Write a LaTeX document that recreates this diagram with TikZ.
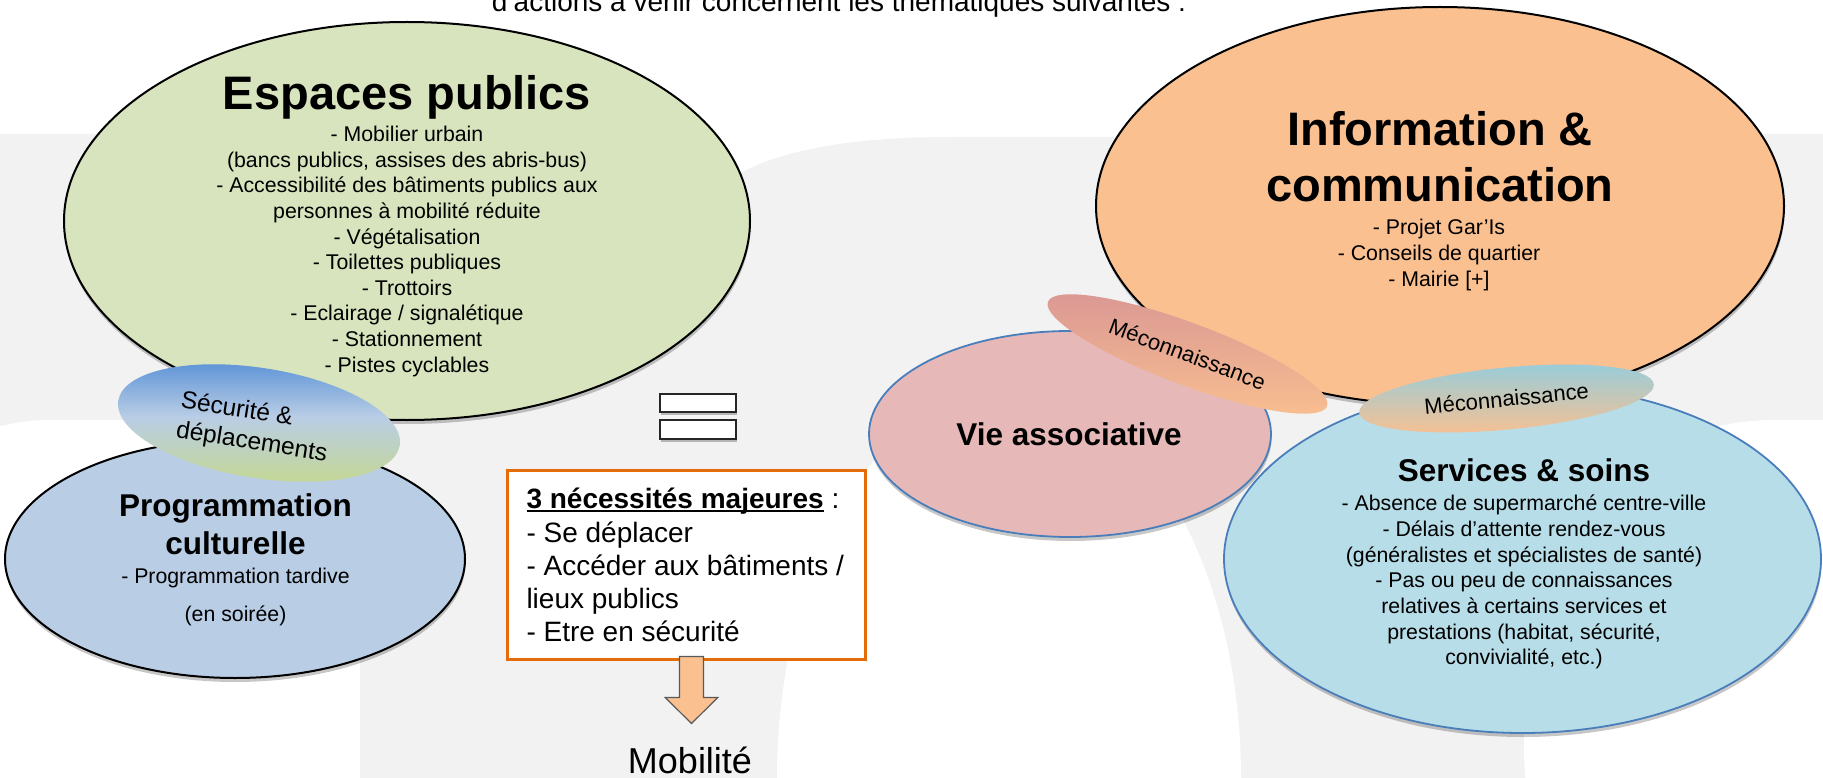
\documentclass[tikz,border=0pt]{standalone}
\usepackage{fontspec}
\setmainfont{Liberation Sans}
\usetikzlibrary{shapes.geometric,shadows,calc}
\definecolor{bggray}{HTML}{F2F2F2}
\definecolor{espfill}{HTML}{D7E4BD}
\definecolor{progfill}{HTML}{B9CDE5}
\definecolor{infofill}{HTML}{FAC090}
\definecolor{viefill}{HTML}{E6B9B8}
\definecolor{servfill}{HTML}{B7DDE8}
\definecolor{blueline}{HTML}{4A7EBB}
\definecolor{boxorange}{HTML}{E46C0A}
\definecolor{secutop}{HTML}{558ED5}
\definecolor{secumid}{HTML}{B9CDE5}
\definecolor{secubot}{HTML}{C3D69B}
\definecolor{mecopink}{HTML}{D99694}
\definecolor{mecoorange}{HTML}{FAC090}
\definecolor{mecoblue}{HTML}{93CDDD}
\definecolor{arrowline}{HTML}{595959}
\newcommand\cblock[2]{\parbox[t]{#1}{\centering #2}}
\newcommand\lblock[2]{\parbox[t]{#1}{\raggedright #2}}
\newcommand\boldul[1]{\leavevmode\setbox0=\hbox{\bfseries #1}\rlap{\rule[-3.4pt]{\wd0}{2pt}}\box0\relax}
\begin{document}
\begin{tikzpicture}[x=1pt,y=-1pt,
  every node/.style={inner sep=0pt, outer sep=0pt},
  bubble/.style={ellipse, draw=black, line width=2pt,
    drop shadow={shadow xshift=0.5pt, shadow yshift=-4pt, opacity=0.22, fill=black}},
  bluebubble/.style={bubble, draw=blueline, line width=1.8pt},
  pill/.style={ellipse, draw=none},
  bigtitle/.style={anchor=base, font=\bfseries\fontsize{47}{56}\selectfont},
  subtitle/.style={anchor=base, font=\bfseries\fontsize{31.5}{37.3}\selectfont},
  bodytext/.style={anchor=base, font=\fontsize{21.3}{25.6}\selectfont},
  pilltext/.style={font=\fontsize{22}{26}\selectfont},
  eqbar/.style={rectangle, draw=black!85, line width=2.2pt, fill=white,
    minimum width=76pt, minimum height=18pt,
    drop shadow={shadow xshift=0.5pt, shadow yshift=-3pt, opacity=0.25, fill=black}},
  needbox/.style={rectangle, draw=boxorange, line width=3pt, fill=white,
    minimum width=358pt, minimum height=189pt},
  boxtext/.style={anchor=base west, font=\fontsize{28}{33.2}\selectfont},
  blockarrow/.style={fill=infofill, draw=arrowline, line width=1.2pt, line join=miter}
]
\useasboundingbox (0,0) rectangle (1823,778);
\clip (0,0) rectangle (1823,778);
% background watermark
\fill[white] (0,0) rectangle (1823,778);
\fill[bggray] (-10,290) rectangle (1833,790);
\fill[bggray, rounded corners=150pt] (-200,134) rectangle (685,600);
\fill[bggray] (690,400) -- (690,230) .. controls (710,160) and (820,137) .. (950,137)
  -- (1600,137) -- (1600,400) -- cycle;
\fill[bggray, rounded corners=150pt] (1530,134) rectangle (2100,600);
\fill[white, rounded corners=200pt] (-150,420) rectangle (360,1000);
\fill[white] (1009,778) ellipse [x radius=232pt, y radius=390pt];
\fill[white, rounded corners=250pt] (1524,420) rectangle (2124,1000);

% top sentence (cut)
\node[anchor=base, font=\fontsize{28}{33}\selectfont] (intro) at (839,12)
  {d’actions à venir concernent les thématiques suivantes :};

% Espaces publics
\node[bubble, fill=espfill, minimum width=686pt, minimum height=398pt] (esp) at (407,221) {};
\node[bigtitle] (esptitle) at (407,110) {Espaces publics};
\node[bodytext] (espbody) at (407,141.7) {\cblock{520pt}{- Mobilier urbain\\
(bancs publics, assises des abris-bus)\\
- Accessibilité des bâtiments publics aux\\
personnes à mobilité réduite\\
- Végétalisation\\
- Toilettes publiques\\
- Trottoirs\\
- Eclairage / signalétique\\
- Stationnement\\
- Pistes cyclables}};

% Programmation culturelle
\node[bubble, fill=progfill, minimum width=460pt, minimum height=238pt] (prog) at (235,559) {};
\node[subtitle] (progtitle) at (235.5,516.7) {\cblock{400pt}{Programmation\\culturelle}};
\node[bodytext] (progbody) at (235.5,583) {\cblock{400pt}{- Programmation tardive\\[12.4pt](en soirée)}};

% Securite & deplacements
\node[pill, minimum width=285pt, minimum height=110pt, rotate=-9,
  top color=secutop, bottom color=secubot, middle color=secumid] (secu) at (259,423) {};
\node[rotate=-9, align=left, font=\fontsize{24.5}{30}\selectfont] (secutxt) at (254,428)
  {Sécurité \&\\déplacements};

% Information & communication
\node[bubble, fill=infofill, minimum width=688pt, minimum height=398pt] (info) at (1440,206) {};
\node[bigtitle] (infotitle) at (1440,146) {\cblock{600pt}{Information \&\\communication}};
\node[bodytext] (infobody) at (1439,235) {\cblock{400pt}{- Projet Gar’Is\\
- Conseils de quartier\\
- Mairie [+]}};

% Vie associative
\node[bluebubble, fill=viefill, minimum width=402pt, minimum height=206pt] (vie) at (1070,434) {};
\node[subtitle] (vietitle) at (1069,445) {Vie associative};

% Meconnaissance 1
\node[pill, minimum width=298pt, minimum height=62pt, rotate=-20.5,
  top color=mecopink, bottom color=mecoorange, pilltext] (meco1) at (1187.5,354) {Méconnaissance};

% Services & soins
\node[bluebubble, fill=servfill, minimum width=597pt, minimum height=348pt] (serv) at (1522.5,559) {};
\node[subtitle] (servtitle) at (1524,481.7) {Services \& soins};
\node[bodytext, font=\fontsize{21.3}{25.7}\selectfont] (servbody) at (1524,510.7) {\cblock{520pt}{- Absence de supermarché centre-ville\\
- Délais d’attente rendez-vous\\
(généralistes et spécialistes de santé)\\
- Pas ou peu de connaissances\\
relatives à certains services et\\
prestations (habitat, sécurité,\\
convivialité, etc.)}};

% Meconnaissance 2
\node[pill, minimum width=296pt, minimum height=62pt, rotate=5.5,
  top color=mecoblue, bottom color=mecoorange, pilltext] (meco2) at (1506.5,398.5) {Méconnaissance};

% equals sign
\node[eqbar] (eqtop) at (698,403) {};
\node[eqbar, minimum height=19pt] (eqbot) at (698,429.5) {};

% needs box
\node[needbox] (needs) at (686.5,565) {};
\node[boxtext] (needstxt) at (526.5,508.8) {\lblock{330pt}{\boldul{3 nécessités majeures} :\\
- Se déplacer\\
- Accéder aux bâtiments /\\
lieux publics\\
- Etre en sécurité}};

% arrow to Mobilite
\coordinate (arrtop) at (691.5,656.5);
\node[anchor=base, font=\fontsize{36}{40}\selectfont] (mob) at (690,773) {Mobilité};
\draw[blockarrow, shift={(arrtop)}] (-12,0) -- (12,0) -- (12,41) -- (26.3,41)
  -- (0,67) -- (-26.3,41) -- (-12,41) -- cycle;
\end{tikzpicture}
\end{document}
